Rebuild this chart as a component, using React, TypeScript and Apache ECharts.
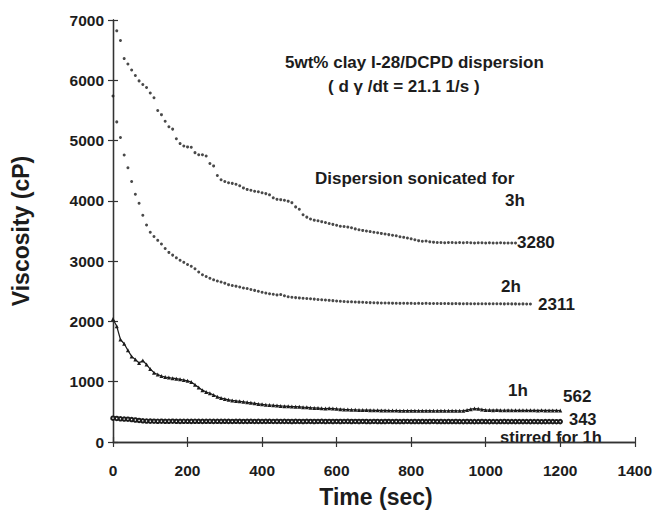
import React, { useEffect, useRef } from "react";
import * as echarts from "echarts";

// Time samples (sec)
const TIME = [
  0, 10, 20, 30, 40, 50, 60, 70, 80, 90,
  100, 110, 120, 130, 140, 150, 160, 170, 180, 190,
  200, 210, 220, 230, 240, 250, 260, 270, 280, 290,
  300, 310, 320, 330, 340, 350, 360, 370, 380, 390,
  400, 410, 420, 430, 440, 450, 460, 470, 480, 490,
  500, 510, 520, 530, 540, 550, 560, 570, 580, 590,
  600, 610, 620, 630, 640, 650, 660, 670, 680, 690,
  700, 710, 720, 730, 740, 750, 760, 770, 780, 790,
  800, 810, 820, 830, 840, 850, 860, 870, 880, 890,
  900, 910, 920, 930, 940, 950, 960, 970, 980, 990,
  1000, 1010, 1020, 1030, 1040, 1050, 1060, 1070, 1080, 1090,
  1100, 1110, 1120, 1130, 1140, 1150, 1160, 1170, 1180, 1190,
  1200,
];

// Sonicated 3h (starts at t = 10 s)
const V_3H = [
  6820, 6660, 6360, 6270, 6170, 6080, 5990, 5930, 5880, 5790,
  5710, 5500, 5430, 5320, 5230, 5190, 5030, 4950, 4910, 4895,
  4890, 4800, 4765, 4765, 4745, 4620, 4580, 4420, 4350, 4320,
  4300, 4290, 4275, 4250, 4215, 4190, 4175, 4160, 4150, 4135,
  4120, 4100, 4050, 4025, 4020, 4010, 3995, 3970, 3900, 3860,
  3770, 3730, 3700, 3680, 3670, 3655, 3640, 3625, 3610, 3595,
  3580, 3575, 3565, 3555, 3535, 3520, 3510, 3500, 3490, 3480,
  3470, 3460, 3450, 3440, 3430, 3420, 3405, 3395, 3385, 3370,
  3355, 3340, 3330, 3335, 3320, 3315, 3310, 3310, 3305, 3310,
  3310, 3305, 3310, 3305, 3310, 3305, 3300, 3305, 3305, 3300,
  3305, 3300, 3300, 3305, 3300, 3300, 3300, 3300,
];

// Sonicated 2h (starts at t = 0 s)
const V_2H = [
  5740, 5310, 5050, 4760, 4550, 4320, 4110, 3960, 3760, 3600,
  3480, 3410, 3345, 3285, 3210, 3145, 3100, 3055, 3015, 2980,
  2945, 2915, 2875, 2820, 2775, 2745, 2715, 2690, 2670, 2655,
  2635, 2610, 2595, 2585, 2570, 2555, 2545, 2530, 2515, 2500,
  2485, 2470, 2460, 2450, 2440, 2445, 2425, 2410, 2400, 2395,
  2390, 2385, 2380, 2375, 2370, 2365, 2360, 2355, 2350, 2345,
  2340, 2335, 2330, 2327, 2325, 2322, 2320, 2318, 2315, 2312,
  2310, 2308, 2306, 2305, 2304, 2303, 2302, 2300, 2302, 2300,
  2300, 2298, 2300, 2298, 2300, 2298, 2297, 2298, 2296, 2297,
  2296, 2295, 2296, 2295, 2294, 2295, 2294, 2293, 2294, 2293,
  2293, 2292, 2293, 2292, 2292, 2291, 2292, 2291, 2291, 2290,
  2291, 2290, 2290,
];

// Sonicated 1h (starts at t = 0 s)
const V_1H = [
  2040, 1920, 1700, 1630, 1520, 1420, 1370, 1310, 1350, 1285,
  1210, 1150, 1120, 1095, 1078, 1068, 1058, 1050, 1040, 1028,
  1015, 995, 950, 905, 860, 830, 808, 780, 750, 728,
  715, 700, 690, 682, 675, 668, 658, 650, 642, 632,
  625, 618, 614, 610, 604, 598, 595, 592, 588, 586,
  584, 578, 575, 570, 566, 562, 558, 555, 558, 556,
  550, 545, 540, 538, 535, 533, 531, 530, 530, 528,
  526, 525, 524, 523, 522, 522, 521, 520, 520, 519,
  519, 519, 518, 519, 518, 519, 518, 518, 519, 518,
  518, 519, 518, 518, 519, 530, 545, 555, 550, 540,
  532, 530, 528, 530, 528, 527, 528, 527, 526, 527,
  526, 525, 526, 525, 524, 525, 524, 523, 524, 523,
  522,
];

// Stirred for 1h (starts at t = 0 s)
const V_STIRRED = [
  395, 390, 385, 380, 378, 372, 365, 358, 352, 348,
  346, 345, 344, 345, 343, 344, 345, 343, 342, 344,
  343, 342, 344, 343, 342, 343, 344, 342, 343, 342,
  343, 342, 341, 343, 342, 341, 342, 343, 341, 342,
  341, 342, 343, 341, 342, 341, 342, 341, 340, 342,
  341, 340, 342, 341, 340, 341, 342, 340, 341, 340,
  341, 340, 341, 342, 340, 341, 340, 341, 340, 339,
  341, 340, 339, 340, 341, 339, 340, 339, 340, 341,
  339, 340, 339, 340, 339, 340, 341, 339, 340, 339,
  340, 339, 340, 339, 338, 340, 339, 338, 339, 340,
  339, 338, 339, 338, 339, 340, 338, 339, 338, 339,
  338, 339, 338, 339, 338, 337, 338, 339, 338, 337,
  338,
];

const X_TICKS = { min: 0, max: 1400, interval: 200 };
const Y_TICKS = { min: 0, max: 7000, interval: 1000 };

const END_LABELS = ["3280", "2311", "562", "343"];
const CURVE_LABELS = ["3h", "2h", "1h", "stirred for 1h"];

function pairs(times: number[], values: number[], offset: number) {
  return values.map((v, i) => [times[i + offset], v]);
}

export default function App() {
  const ref = useRef<HTMLDivElement>(null);

  useEffect(() => {
    if (!ref.current) return;
    const chart = echarts.init(ref.current, null, { renderer: "svg" });
    const FONT = "Liberation Sans, Arial, Helvetica, sans-serif";
    const INK = "#1c1c1c";
    const axisLine = { show: true, lineStyle: { color: "#333", width: 1.3 } };
    const tickIn = { show: true, inside: true, length: 5, lineStyle: { color: "#333", width: 1.2 } };
    const labelStyle = {
      color: INK,
      fontFamily: FONT,
      fontWeight: "bold" as const,
      fontSize: 15.5,
      formatter: (v: number) => String(v),
    };

    const textAt = (text: string, x: number, y: number, size = 17, align = "left") => ({
      type: "text",
      x,
      y,
      style: {
        text,
        font: `bold ${size}px ${FONT}`,
        fill: INK,
        align,
        verticalAlign: "middle",
      },
    });

    chart.setOption({
      animation: false,
      backgroundColor: "#ffffff",
      grid: { left: 113, top: 20, width: 522, height: 422, containLabel: false },
      xAxis: [
        {
          type: "value",
          position: "bottom",
          ...X_TICKS,
          axisLine,
          axisTick: tickIn,
          splitLine: { show: false },
          axisLabel: { ...labelStyle, margin: 20 },
        },
        {
          type: "value",
          position: "top",
          ...X_TICKS,
          axisLine,
          axisTick: tickIn,
          splitLine: { show: false },
          axisLabel: { show: false },
        },
      ],
      yAxis: [
        {
          type: "value",
          position: "left",
          ...Y_TICKS,
          axisLine,
          axisTick: tickIn,
          splitLine: { show: false },
          axisLabel: { ...labelStyle, margin: 9 },
        },
        {
          type: "value",
          position: "right",
          ...Y_TICKS,
          axisLine,
          axisTick: tickIn,
          splitLine: { show: false },
          axisLabel: { show: false },
        },
      ],
      series: [
        {
          name: "3h",
          type: "scatter",
          data: pairs(TIME, V_3H, 1),
          symbol: "circle",
          symbolSize: 3,
          itemStyle: { color: INK },
        },
        {
          name: "2h",
          type: "scatter",
          data: pairs(TIME, V_2H, 0),
          symbol: "circle",
          symbolSize: 3,
          itemStyle: { color: INK },
        },
        {
          name: "1h",
          type: "line",
          data: pairs(TIME, V_1H, 0),
          symbol: "triangle",
          symbolSize: 4,
          showAllSymbol: true,
          lineStyle: { color: INK, width: 1.2 },
          itemStyle: { color: INK },
        },
        {
          name: "stirred for 1h",
          type: "line",
          data: pairs(TIME, V_STIRRED, 0),
          symbol: "emptyCircle",
          symbolSize: 3.5,
          showAllSymbol: true,
          lineStyle: { color: INK, width: 1.2 },
          itemStyle: { color: INK, borderColor: INK, borderWidth: 1 },
        },
      ],
      graphic: [
        textAt("5wt% clay I-28/DCPD dispersion", 285, 62),
        textAt("( d \u03b3 /dt = 21.1 1/s )", 328, 86),
        textAt("Dispersion sonicated for", 315, 178),
        textAt(CURVE_LABELS[0], 505, 200),
        textAt(END_LABELS[0], 517, 242),
        textAt(CURVE_LABELS[1], 501, 286),
        textAt(END_LABELS[1], 538, 304),
        textAt(CURVE_LABELS[2], 508, 390),
        textAt(END_LABELS[2], 563, 396),
        textAt(END_LABELS[3], 569, 419, 16.5),
        textAt(CURVE_LABELS[3], 500, 437, 16.5),
        {
          type: "text",
          x: 21,
          y: 231,
          rotation: Math.PI / 2,
          style: {
            text: "Viscosity (cP)",
            font: `bold 23px ${FONT}`,
            fill: INK,
            align: "center",
            verticalAlign: "middle",
          },
        },
        textAt("Time (sec)", 376, 497, 23, "center"),
      ],
    });
    return () => chart.dispose();
  }, []);

  return (
    <div
      ref={ref}
      style={{ position: "absolute", left: 0, top: 0, width: 655, height: 513 }}
    />
  );
}
